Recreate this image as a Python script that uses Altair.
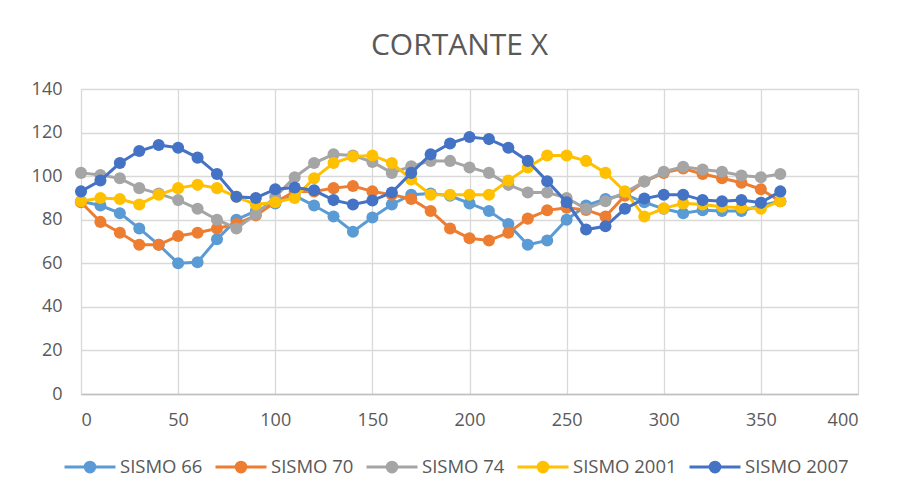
import altair as alt
import pandas as pd

# Angle of the shear direction (degrees)
angles = list(range(0, 361, 10))

series_names = ["SISMO 66", "SISMO 70", "SISMO 74", "SISMO 2001", "SISMO 2007"]
series_colors = ["#5B9BD5", "#ED7D31", "#A5A5A5", "#FFC000", "#4472C4"]

sismo_66 = [88.5, 86.5, 83, 76, 68.5, 60, 60.5, 71, 80, 84, 87.5, 91, 86.5, 81.5,
            74.5, 81, 87, 91.5, 92, 91, 87.5, 84, 78, 68.5, 70.5, 80, 86.5, 89.5,
            91.5, 88, 85, 83, 84.3, 84, 84, 86.5, 88.5]
sismo_70 = [88, 79, 74, 68.5, 68.5, 72.5, 74, 76, 78, 82, 88, 93, 93, 94.5,
            95.5, 93, 91.5, 89.5, 84, 76, 71.5, 70.5, 74, 80.5, 84.3, 85.5, 84.5, 81.5,
            91, 97.5, 101.5, 103.5, 101, 99, 97, 94, 88.5]
sismo_74 = [101.5, 100.5, 99, 94.5, 92, 89, 85, 80, 76, 82.5, 90.5, 99.5, 106, 110,
            109.5, 106.5, 101.5, 104.5, 107, 107, 104, 101.5, 96, 92.5, 92.5, 90, 85, 88.5,
            92.5, 97.5, 102, 104.3, 103, 102, 100.3, 99.5, 101]
sismo_2001 = [88.5, 90, 89.5, 87, 91.5, 94.5, 96, 94.5, 90.5, 87, 88, 90, 99, 106,
              109, 109.5, 106, 98.5, 91.5, 91.5, 91.5, 91.5, 98, 104, 109.5, 109.5, 107, 101.5,
              93, 81.5, 85.2, 87.5, 87, 86, 85.5, 85, 88.5]
sismo_2007 = [93, 98, 106, 111.5, 114.3, 113, 108.5, 101, 90.5, 90, 94, 94.8, 93.5, 89,
              87, 88.8, 92.5, 101.5, 110, 115, 118, 117, 113, 107, 97.7, 88, 75.5, 77,
              85, 89.7, 91.5, 91.5, 89, 88.5, 89, 87.8, 93]

x_ticks = [0, 50, 100, 150, 200, 250, 300, 350, 400]
y_ticks = [0, 20, 40, 60, 80, 100, 120, 140]

values = [sismo_66, sismo_70, sismo_74, sismo_2001, sismo_2007]
frames = []
for name, vals in zip(series_names, values):
    frames.append(pd.DataFrame({"angulo": angles, "cortante": vals, "serie": name}))
df = pd.concat(frames, ignore_index=True)

FONT = "Open Sans"
TEXT = "#595959"
GRID = "#D9D9D9"

# legend glyph: short line with a dot in the middle
legend_glyph = ("M-1,0L1,0M-0.19,0A0.19,0.19,0,1,1,0.19,0"
                "A0.19,0.19,0,1,1,-0.19,0Z")

color = alt.Color(
    "serie:N",
    scale=alt.Scale(domain=series_names, range=series_colors),
    legend=alt.Legend(
        title=None,
        orient="none",
        direction="horizontal",
        legendX=-18,
        legendY=351,
        columns=5,
        symbolType=legend_glyph,
        symbolSize=2600,
        symbolStrokeWidth=3,
        symbolOpacity=1,
        labelFont=FONT,
        labelFontSize=18.5,
        labelColor=TEXT,
        labelOffset=3,
        columnPadding=6,
        labelLimit=200,
    ),
)

x_enc = alt.X(
    "angulo:Q",
    scale=alt.Scale(domain=[0, 400], nice=False),
    axis=alt.Axis(values=x_ticks, title=None, grid=True, gridColor=GRID,
                  gridWidth=1.3, domain=True, domainColor="#BFBFBF",
                  domainWidth=1.3, ticks=False, labelPadding=17,
                  labelFont=FONT, labelFontSize=18, labelColor=TEXT),
)
y_enc = alt.Y(
    "cortante:Q",
    scale=alt.Scale(domain=[0, 140], nice=False),
    axis=alt.Axis(values=y_ticks, title=None, grid=True, gridColor=GRID,
                  gridWidth=1.3, domain=False, ticks=False, labelPadding=19,
                  labelFont=FONT, labelFontSize=18, labelColor=TEXT),
)

layers = []
for name in series_names:
    base = alt.Chart(df).transform_filter(alt.datum.serie == name)
    layers.append(base.mark_line(strokeWidth=3).encode(x=x_enc, y=y_enc, color=color))
    layers.append(base.mark_circle(size=145, opacity=1).encode(x=x_enc, y=y_enc, color=color))

chart = alt.layer(*layers).properties(
    width=777,
    height=305,
    title=alt.TitleParams("CORTANTE X", font=FONT, fontSize=30, fontWeight="normal",
                          color=TEXT, anchor="middle", dx=-10, offset=19),
    autosize=alt.AutoSizeParams(type="none"),
    padding={"left": 81, "top": 89, "right": 42, "bottom": 103},
).configure_view(stroke=None).configure(background="white")

chart.save("out.html", embed_options={"renderer": "svg", "actions": False})
